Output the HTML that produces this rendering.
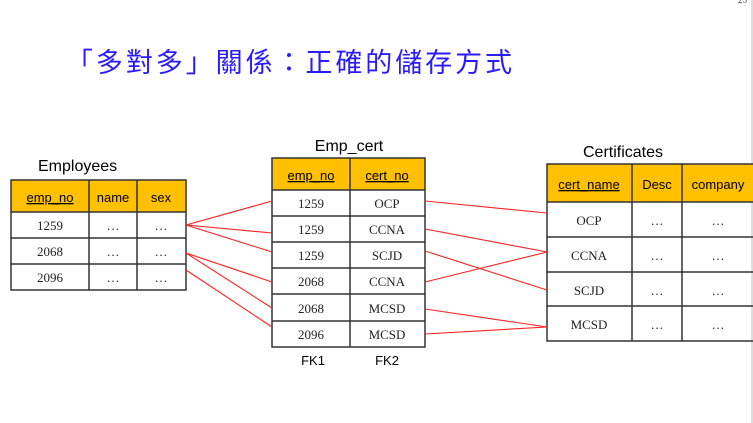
<!DOCTYPE html>
<html><head><meta charset="utf-8"><style>
html,body{margin:0;padding:0;background:#fff;}
svg{display:block;}
.h{font-family:"Liberation Sans",sans-serif;font-size:13px;fill:#000;}
.s{font-family:"Liberation Serif",serif;font-size:13px;fill:#222;}
</style></head><body>
<svg width="753" height="423" viewBox="0 0 753 423" xmlns="http://www.w3.org/2000/svg">
<rect width="753" height="423" fill="#fff"/>
<line x1="752" y1="0" x2="752" y2="423" stroke="#bbb" stroke-width="1"/>
<text x="738" y="3" font-family="Liberation Serif" font-size="9" fill="#444">25</text>
<text x="66" y="72" font-family="'Noto Sans CJK TC',sans-serif" font-size="27" fill="#2a1aff" textLength="446" lengthAdjust="spacing">「多對多」關係：正確的儲存方式</text>

<!-- Employees -->
<text x="38" y="171" font-family="Liberation Sans" font-size="16" fill="#000">Employees</text>
<rect x="11" y="180" width="175" height="32" fill="#ffc000"/>
<g stroke="#333" stroke-width="1.5" fill="none">
<rect x="11" y="180" width="175" height="110"/>
<line x1="11" y1="212" x2="186" y2="212"/><line x1="11" y1="238" x2="186" y2="238"/><line x1="11" y1="264" x2="186" y2="264"/>
<line x1="89" y1="180" x2="89" y2="290"/><line x1="137" y1="180" x2="137" y2="290"/>
</g>
<g class="h" text-anchor="middle">
<text x="50" y="202" text-decoration="underline">emp_no</text><text x="113" y="202">name</text><text x="161" y="202">sex</text>
</g>
<g class="s" text-anchor="middle">
<text x="50" y="230">1259</text><text x="113" y="230">…</text><text x="161" y="230">…</text>
<text x="50" y="256">2068</text><text x="113" y="256">…</text><text x="161" y="256">…</text>
<text x="50" y="282">2096</text><text x="113" y="282">…</text><text x="161" y="282">…</text>
</g>

<!-- Emp_cert -->
<text x="349" y="151" text-anchor="middle" font-family="Liberation Sans" font-size="16" fill="#000">Emp_cert</text>
<rect x="272" y="158" width="153" height="32" fill="#ffc000"/>
<g stroke="#333" stroke-width="1.5" fill="none">
<rect x="272" y="158" width="153" height="189"/>
<line x1="272" y1="190" x2="425" y2="190"/><line x1="272" y1="216" x2="425" y2="216"/><line x1="272" y1="242" x2="425" y2="242"/>
<line x1="272" y1="268" x2="425" y2="268"/><line x1="272" y1="294" x2="425" y2="294"/><line x1="272" y1="321" x2="425" y2="321"/>
<line x1="350" y1="158" x2="350" y2="347"/>
</g>
<g class="h" text-anchor="middle">
<text x="311" y="180" text-decoration="underline">emp_no</text><text x="387" y="180" text-decoration="underline">cert_no</text>
<text x="313" y="365">FK1</text><text x="387" y="365">FK2</text>
</g>
<g class="s" text-anchor="middle">
<text x="311" y="208">1259</text><text x="387" y="208">OCP</text>
<text x="311" y="234">1259</text><text x="387" y="234">CCNA</text>
<text x="311" y="260">1259</text><text x="387" y="260">SCJD</text>
<text x="311" y="286">2068</text><text x="387" y="286">CCNA</text>
<text x="311" y="313">2068</text><text x="387" y="313">MCSD</text>
<text x="311" y="339">2096</text><text x="387" y="339">MCSD</text>
</g>

<!-- Certificates -->
<text x="623" y="157" text-anchor="middle" font-family="Liberation Sans" font-size="16" fill="#000">Certificates</text>
<rect x="547" y="164" width="206" height="38" fill="#ffc000"/>
<g stroke="#333" stroke-width="1.5" fill="none">
<rect x="547" y="164" width="210" height="177"/>
<line x1="547" y1="202" x2="753" y2="202"/><line x1="547" y1="237" x2="753" y2="237"/>
<line x1="547" y1="272" x2="753" y2="272"/><line x1="547" y1="306" x2="753" y2="306"/>
<line x1="632" y1="164" x2="632" y2="341"/><line x1="682" y1="164" x2="682" y2="341"/>
</g>
<g class="h" text-anchor="middle">
<text x="589" y="189" text-decoration="underline">cert_name</text><text x="657" y="189">Desc</text><text x="718" y="189">company</text>
</g>
<g class="s" text-anchor="middle">
<text x="589" y="225">OCP</text><text x="657" y="225">…</text><text x="718" y="225">…</text>
<text x="589" y="260">CCNA</text><text x="657" y="260">…</text><text x="718" y="260">…</text>
<text x="589" y="295">SCJD</text><text x="657" y="295">…</text><text x="718" y="295">…</text>
<text x="589" y="329">MCSD</text><text x="657" y="329">…</text><text x="718" y="329">…</text>
</g>

<!-- connectors -->
<g stroke="#ff2020" stroke-width="1.1">
<line x1="186" y1="225" x2="272" y2="201"/><line x1="186" y1="225" x2="272" y2="233"/><line x1="186" y1="225" x2="272" y2="252"/>
<line x1="186" y1="253" x2="272" y2="282"/><line x1="186" y1="253" x2="272" y2="308"/><line x1="186" y1="270" x2="272" y2="327"/>
<line x1="425" y1="201" x2="547" y2="213"/><line x1="425" y1="229" x2="547" y2="252"/><line x1="425" y1="251" x2="547" y2="290"/>
<line x1="425" y1="282" x2="547" y2="252"/><line x1="425" y1="309" x2="547" y2="327"/><line x1="425" y1="334" x2="547" y2="327"/>
</g>
</svg>
</body></html>
